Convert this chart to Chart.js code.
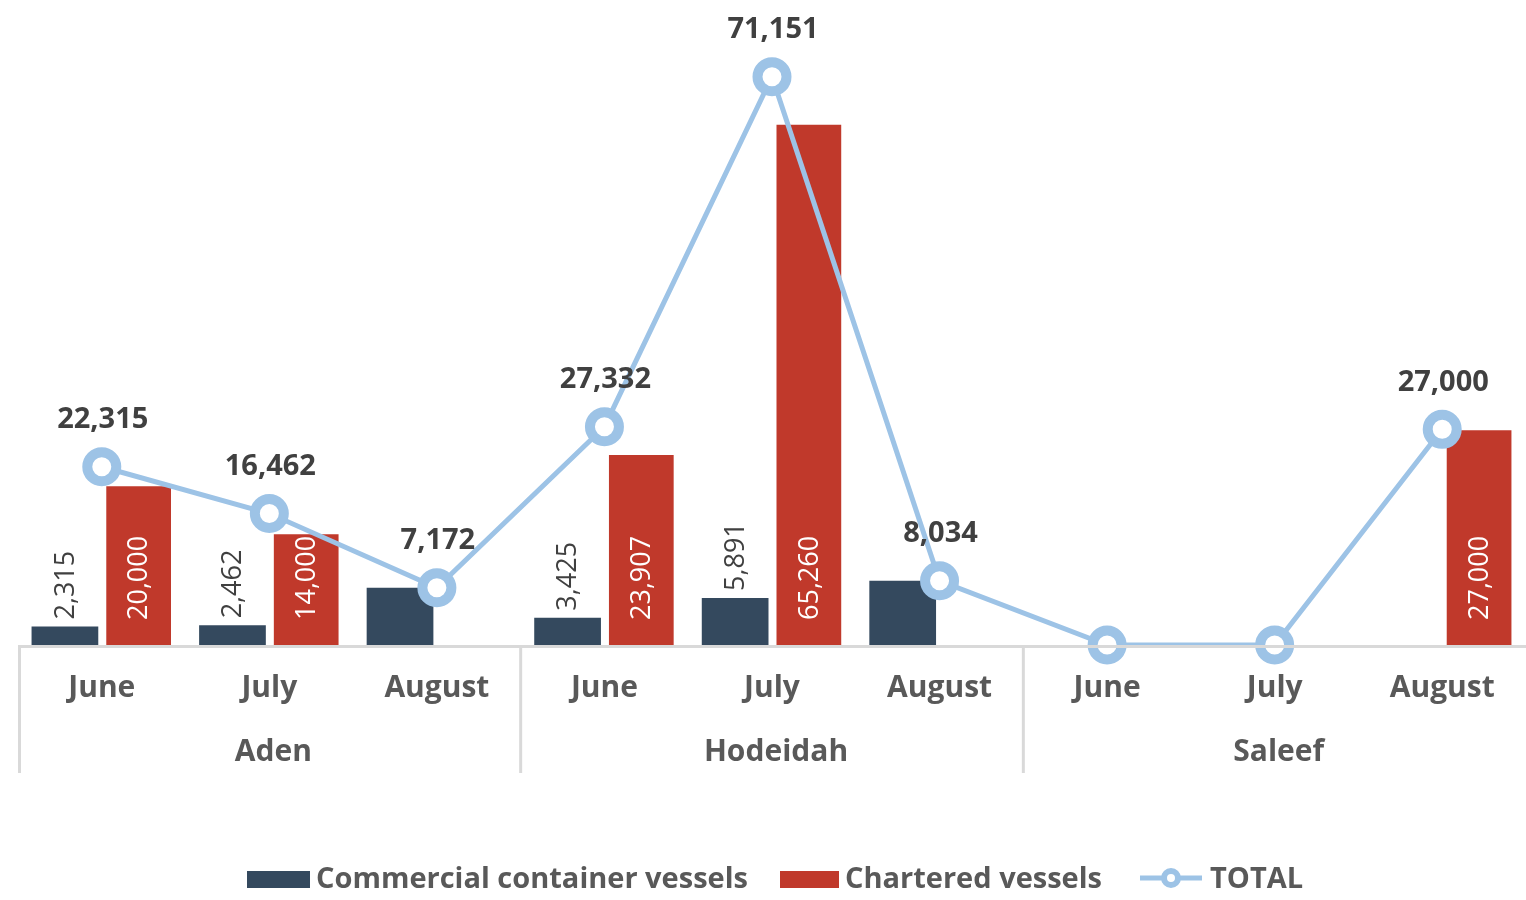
<!DOCTYPE html>
<html>
<head>
<meta charset="utf-8">
<script src="https://cdn.jsdelivr.net/npm/chart.js@4.4.1/dist/chart.umd.min.js"></script>
<style>
  html, body { margin: 0; padding: 0; background: #ffffff; }
  #wrap { width: 1526px; height: 900px; position: relative; }
</style>
</head>
<body>
<div id="wrap"><canvas id="c" width="1526" height="900"></canvas></div>
<script>
const months = ["June", "July", "August", "June", "July", "August", "June", "July", "August"];
const ports = ["Aden", "Hodeidah", "Saleef"];
const commercial = [2315, 2462, 7172, 3425, 5891, 8034, 0, 0, 0];
const chartered = [20000, 14000, 0, 23907, 65260, 0, 0, 0, 27000];
const total = [22315, 16462, 7172, 27332, 71151, 8034, 0, 0, 27000];
const seriesNames = ["Commercial container vessels", "Chartered vessels", "TOTAL"];

const NAVY = "#34495e";
const RED = "#c0392b";
const BLUE = "#9dc3e6";
const TXT = "#404040";
const AXT = "#595959";
const FONT = "'Open Sans', 'Noto Sans', sans-serif";

function fmt(v) { return v.toLocaleString("en-US"); }

const overlay = {
  id: "overlay",
  afterDatasetsDraw(chart) {
    const ctx = chart.ctx;
    const m0 = chart.getDatasetMeta(0), m1 = chart.getDatasetMeta(1);
    ctx.save();
    ctx.textBaseline = "middle";
    ctx.textAlign = "left";
    for (let i = 0; i < months.length; i++) {
      if (commercial[i] > 0 && chartered[i] > 0) {
        const b = m0.data[i];
        ctx.save();
        ctx.translate(b.x, b.y - 7);
        ctx.rotate(-Math.PI / 2);
        ctx.font = "400 27px " + FONT;
        ctx.fillStyle = TXT;
        ctx.fillText(fmt(commercial[i]), 0, 1);
        ctx.restore();
      }
      if (chartered[i] > 0) {
        const b = m1.data[i];
        ctx.save();
        ctx.translate(b.x, b.base - 25);
        ctx.rotate(-Math.PI / 2);
        ctx.font = "400 27px " + FONT;
        ctx.fillStyle = "#ffffff";
        ctx.fillText(fmt(chartered[i]), 0, 1);
        ctx.restore();
      }
    }
    ctx.restore();
  },
  afterDraw(chart) {
    const ctx = chart.ctx;
    const xs = chart.scales.x;
    const area = chart.chartArea;
    const m2 = chart.getDatasetMeta(2);
    ctx.save();
    // total labels
    ctx.font = "700 29px " + FONT;
    ctx.fillStyle = TXT;
    ctx.textAlign = "center";
    ctx.textBaseline = "middle";
    for (let i = 0; i < months.length; i++) {
      if (total[i] > 0) {
        const p = m2.data[i];
        ctx.fillText(fmt(total[i]), xs.getPixelForValue(i) + 1, p.y - 47);
      }
    }
    // axis line
    ctx.strokeStyle = "#d9d9d9";
    ctx.lineWidth = 3;
    ctx.beginPath();
    ctx.moveTo(area.left, area.bottom + 1.5);
    ctx.lineTo(area.right, area.bottom + 1.5);
    ctx.stroke();
    // group separators
    const per = months.length / ports.length;
    for (let g = 0; g < ports.length; g++) {
      let x;
      if (g === 0) x = area.left + 1.5;
      else x = (xs.getPixelForValue(g * per - 1) + xs.getPixelForValue(g * per)) / 2;
      ctx.beginPath();
      ctx.moveTo(x, area.bottom);
      ctx.lineTo(x, area.bottom + 128);
      ctx.stroke();
    }
    // month labels
    ctx.fillStyle = AXT;
    ctx.font = "700 30px " + FONT;
    for (let i = 0; i < months.length; i++) {
      ctx.fillText(months[i], xs.getPixelForValue(i), area.bottom + 43);
    }
    // port labels
    for (let g = 0; g < ports.length; g++) {
      const cx = (xs.getPixelForValue(g * per) + xs.getPixelForValue(g * per + per - 1)) / 2;
      ctx.fillText(ports[g], cx + 4, area.bottom + 107);
    }
    // legend
    const ly = 880;
    ctx.textAlign = "left";
    ctx.font = "700 29px " + FONT;
    ctx.fillStyle = NAVY;
    ctx.fillRect(247, ly - 9, 63, 17);
    ctx.fillStyle = AXT;
    ctx.fillText(seriesNames[0], 316, ly);
    ctx.fillStyle = RED;
    ctx.fillRect(780, ly - 9, 59, 17);
    ctx.fillStyle = AXT;
    ctx.fillText(seriesNames[1], 845, ly);
    ctx.strokeStyle = BLUE;
    ctx.lineWidth = 5;
    ctx.beginPath();
    ctx.moveTo(1140, ly - 2);
    ctx.lineTo(1202, ly - 2);
    ctx.stroke();
    ctx.beginPath();
    ctx.arc(1171, ly - 2, 7, 0, Math.PI * 2);
    ctx.fillStyle = "#ffffff";
    ctx.fill();
    ctx.lineWidth = 6;
    ctx.stroke();
    ctx.fillStyle = AXT;
    ctx.fillText(seriesNames[2], 1210, ly);
    ctx.restore();
  }
};

new Chart(document.getElementById("c"), {
  data: {
    labels: months.map((m, i) => ports[Math.floor(i / 3)] + " " + m),
    datasets: [
      { type: "bar", label: seriesNames[0], data: commercial, backgroundColor: NAVY, order: 2,
        categoryPercentage: 0.88, barPercentage: 0.905 },
      { type: "bar", label: seriesNames[1], data: chartered, backgroundColor: RED, order: 2,
        borderColor: "rgba(255,255,255,0.35)", borderWidth: 1,
        categoryPercentage: 0.88, barPercentage: 0.905 },
      { type: "line", label: seriesNames[2], data: total, borderColor: BLUE, borderWidth: 5,
        pointRadius: 14.5, pointBorderWidth: 10, pointBackgroundColor: "#ffffff",
        pointBorderColor: BLUE, tension: 0, order: 1, clip: false }
    ]
  },
  options: {
    responsive: false,
    animation: false,
    layout: { autoPadding: false, padding: { left: 18, right: 0, top: 6, bottom: 255 } },
    plugins: { legend: { display: false }, tooltip: { enabled: false } },
    scales: {
      x: { display: false },
      y: { display: false, min: 0, max: 80000 }
    }
  },
  plugins: [overlay]
});
</script>
</body>
</html>
